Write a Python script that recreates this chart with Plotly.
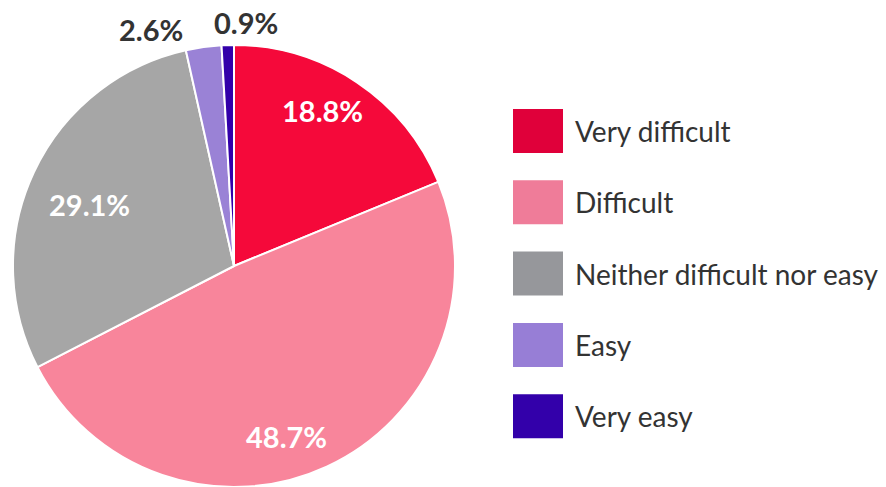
import math
import plotly.graph_objects as go

labels = ['Very difficult', 'Difficult', 'Neither difficult nor easy', 'Easy', 'Very easy']
values = [18.8, 48.7, 29.1, 2.6, 0.9]
slice_colors = ['#F5093A', '#F8859B', '#A6A6A6', '#9A82D6', '#3300AA']
legend_colors = ['#E0003A', '#EF7C99', '#96979B', '#977ED6', '#3300AA']

W, H = 886, 487
FONT = 'Lato, "Noto Sans", sans-serif'

# pie geometry in pixels
CX, CY, R = 234, 266, 221

fig = go.Figure(go.Pie(
    labels=labels,
    values=values,
    sort=False,
    direction='clockwise',
    rotation=0,
    marker=dict(colors=slice_colors, line=dict(color='white', width=2)),
    textinfo='none',
    domain=dict(x=[(CX - R) / W, (CX + R) / W], y=[1 - (CY + R) / H, 1 - (CY - R) / H]),
    showlegend=False,
    hoverinfo='label+percent',
))

# percentage labels placed from the slice mid-angles
# (radius factor, xshift, yshift, inside?) per slice
label_style = [
    (0.80, -10, 9, True),
    (0.80, -22, -10, True),
    (0.74, 4, -8, True),
    (1.09, -50, -2, False),
    (1.10, 19, 0, False),
]
total = sum(values)
cum = 0
for v, (rf, xs, ys, inside) in zip(values, label_style):
    mid = (cum + v / 2) / total * 2 * math.pi
    cum += v
    px = CX + rf * R * math.sin(mid)
    py = CY - rf * R * math.cos(mid)
    fig.add_annotation(x=px / W, y=1 - py / H, xref='paper', yref='paper',
                       text=f'<b>{v:.1f}%</b>', showarrow=False,
                       xanchor='center', yanchor='middle', xshift=xs, yshift=ys,
                       font=dict(family=FONT, size=29,
                                 color='white' if inside else '#333333'))

# hand-made legend with big swatches
for i, (name, col) in enumerate(zip(labels, legend_colors)):
    cy = 131 + i * 71.3
    fig.add_shape(type='rect', xref='paper', yref='paper',
                  x0=513 / W, x1=563 / W,
                  y0=1 - (cy + 22) / H, y1=1 - (cy - 22) / H,
                  fillcolor=col, line=dict(width=0))
    fig.add_annotation(x=573 / W, y=1 - cy / H, xref='paper', yref='paper',
                       text=name, showarrow=False, xanchor='left', yanchor='middle',
                       font=dict(family=FONT, size=28, color='#333333'))

fig.update_layout(
    width=W,
    height=H,
    margin=dict(l=0, r=0, t=0, b=0),
    paper_bgcolor='white',
    plot_bgcolor='white',
    font=dict(family=FONT),
)

fig.write_html("out.html", config={'displayModeBar': False},
               post_script="document.body.style.margin='0';")
